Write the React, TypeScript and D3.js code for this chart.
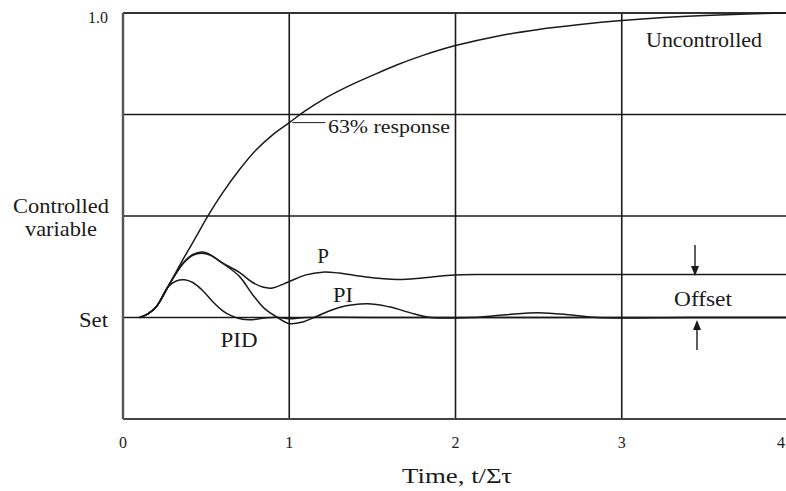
import React from "react";
import * as d3 from "d3";

const W = 786;
const H = 491;

const xTicks = [0, 1, 2, 3, 4];
const xTickLabels = ["0", "1", "2", "3", "4"];
const hGrid = [0, 1 / 3, 2 / 3];

// [t/Στ, response]
const uncontrolled: [number, number][] = [
  [0.1, 0], [0.15, 0.012], [0.2, 0.035], [0.28, 0.11], [0.36, 0.19], [0.43, 0.256],
  [0.51, 0.333], [0.6, 0.41], [0.7, 0.485], [0.8, 0.55], [0.9, 0.6], [1.0, 0.64],
  [1.1, 0.68], [1.2, 0.715], [1.35, 0.758], [1.5, 0.795], [1.65, 0.83], [1.8, 0.86],
  [2.0, 0.893], [2.25, 0.924], [2.5, 0.946], [2.75, 0.962], [3.0, 0.975], [3.25, 0.985],
  [3.5, 0.992], [3.75, 0.997], [4.0, 1.0],
];

const pCurve: [number, number][] = [
  [0.1, 0], [0.15, 0.012], [0.2, 0.035], [0.28, 0.11], [0.36, 0.178], [0.42, 0.207],
  [0.475, 0.215], [0.53, 0.205], [0.58, 0.185], [0.7, 0.148], [0.78, 0.115], [0.84, 0.1],
  [0.9, 0.097], [1.0, 0.118], [1.1, 0.14], [1.2, 0.149], [1.3, 0.146], [1.45, 0.134],
  [1.65, 0.125], [1.8, 0.13], [1.97, 0.139], [2.2, 0.141], [3.0, 0.141], [4.0, 0.141],
];

const piCurve: [number, number][] = [
  [0.1, 0], [0.15, 0.012], [0.2, 0.035], [0.28, 0.11], [0.36, 0.176], [0.42, 0.204],
  [0.475, 0.211], [0.53, 0.203], [0.6, 0.178], [0.7, 0.135], [0.78, 0.075], [0.85, 0.03],
  [0.93, 0.0], [1.0, -0.02], [1.08, -0.015], [1.17, 0.005], [1.3, 0.033], [1.47, 0.045],
  [1.6, 0.035], [1.75, 0.012], [1.85, 0.0], [2.1, 0.0], [2.3, 0.009], [2.5, 0.016],
  [2.7, 0.008], [2.85, 0.0], [3.4, 0.0], [4.0, 0.0],
];

const pidCurve: [number, number][] = [
  [0.1, 0], [0.15, 0.012], [0.2, 0.035], [0.27, 0.1], [0.32, 0.12], [0.37, 0.124],
  [0.42, 0.115], [0.48, 0.088], [0.54, 0.052], [0.6, 0.022], [0.65, 0.006], [0.72, -0.006],
  [0.78, -0.007], [0.85, -0.002], [0.92, 0.001], [1.0, -0.004], [1.1, 0.0], [1.5, 0.0],
  [2.5, 0.0], [4.0, 0.0],
];

const x = d3.scaleLinear().domain([0, 4]).range([123, 788]);
const y = d3.scaleLinear().domain([-1 / 3, 1]).range([419, 13]);

const line = d3
  .line<[number, number]>()
  .x((d) => x(d[0]))
  .y((d) => y(d[1]))
  .curve(d3.curveCatmullRom.alpha(0.5));

const ink = "#1a1a1a";
const tStyle: React.CSSProperties = { fontFamily: "'Liberation Serif', 'Times New Roman', serif" };

type LabelProps = {
  x: number;
  y: number;
  size: number;
  anchor?: "start" | "middle" | "end";
  len?: number;
  children: React.ReactNode;
};

function Label({ x: lx, y: ly, size, anchor = "start", len, children }: LabelProps) {
  const extra = len ? { textLength: len, lengthAdjust: "spacingAndGlyphs" } : {};
  return (
    <text x={lx} y={ly} fontSize={size} fill={ink} textAnchor={anchor} style={tStyle} {...extra}>
      {children}
    </text>
  );
}

export default function App() {
  const series = [uncontrolled, pCurve, piCurve, pidCurve];
  return (
    <svg
      width={W}
      height={H}
      style={{ position: "absolute", left: 0, top: 0, background: "#fff" }}
    >
      <rect x={0} y={0} width={W} height={H} fill="#fff" />
      {/* horizontal grid */}
      {hGrid.map((v) => (
        <line key={"h" + v} x1={x(0)} x2={x(4)} y1={y(v)} y2={y(v)} stroke={ink} strokeWidth={1.6} />
      ))}
      {/* vertical grid */}
      {[1, 2, 3].map((v) => (
        <line key={"v" + v} x1={x(v)} x2={x(v)} y1={y(1)} y2={y(-1 / 3)} stroke={ink} strokeWidth={1.6} />
      ))}
      {/* frame */}
      <line x1={x(0)} x2={x(4)} y1={y(1)} y2={y(1)} stroke="#333" strokeWidth={2.2} />
      <line x1={x(0)} x2={x(4)} y1={y(-1 / 3)} y2={y(-1 / 3)} stroke="#444" strokeWidth={2} />
      <line x1={x(0)} x2={x(0)} y1={y(1)} y2={y(-1 / 3)} stroke="#555" strokeWidth={2.4} />
      <line x1={x(4)} x2={x(4)} y1={y(1)} y2={y(-1 / 3)} stroke="#444" strokeWidth={2} />

      {/* curves */}
      {series.map((s, i) => (
        <path key={"s" + i} d={line(s) || ""} fill="none" stroke={ink} strokeWidth={1.5} />
      ))}

      {/* leader for 63% */}
      <line x1={x(1) + 3} x2={x(1) + 36} y1={y(0.64)} y2={y(0.64)} stroke={ink} strokeWidth={1} />
      <Label x={328} y={133} size={19} len={122}>63% response</Label>
      <Label x={704} y={47} size={21} anchor="middle" len={116}>Uncontrolled</Label>

      {/* curve labels */}
      <Label x={323} y={263} size={21} anchor="middle">P</Label>
      <Label x={343} y={302} size={21} anchor="middle" len={20}>PI</Label>
      <Label x={239} y={347} size={21} anchor="middle" len={37}>PID</Label>

      {/* offset */}
      <Label x={703} y={306} size={21} anchor="middle" len={58}>Offset</Label>
      <line x1={695} x2={695} y1={245} y2={268} stroke={ink} strokeWidth={1.4} />
      <path d={`M ${691} ${266} L ${699} ${266} L ${695} ${276} Z`} fill={ink} />
      <line x1={697} x2={697} y1={350} y2={328} stroke={ink} strokeWidth={1.4} />
      <path d={`M ${693} ${330} L ${701} ${330} L ${697} ${320} Z`} fill={ink} />

      {/* y labels */}
      <Label x={108} y={23} size={16} anchor="end" len={20}>1.0</Label>
      <Label x={61} y={213} size={21} anchor="middle" len={96}>Controlled</Label>
      <Label x={61} y={236} size={21} anchor="middle" len={72}>variable</Label>
      <Label x={108} y={327} size={21} anchor="end" len={29}>Set</Label>

      {/* x ticks */}
      {xTicks.map((t, i) => (
        <Label key={"t" + t} x={Math.min(x(t), 781)} y={448} size={16} anchor="middle">
          {xTickLabels[i]}
        </Label>
      ))}
      <Label x={457} y={483} size={22} anchor="middle" len={110}>Time, t/Στ</Label>
    </svg>
  );
}
